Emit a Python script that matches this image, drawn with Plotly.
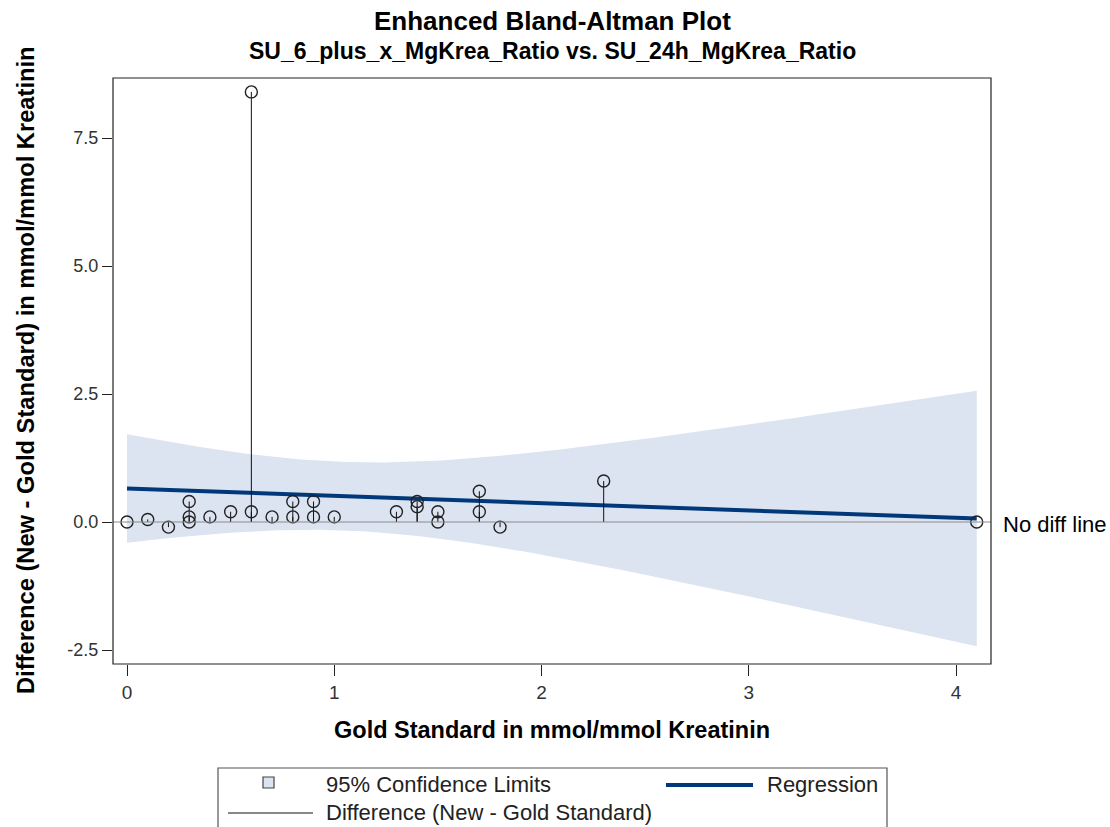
import numpy as np
import plotly.graph_objects as go

# Gold standard values (x) and differences New - Gold Standard (y)
gold = [0.0, 0.1, 0.2, 0.3, 0.3, 0.3, 0.4, 0.5, 0.6, 0.6, 0.7, 0.8, 0.8,
        0.9, 0.9, 1.0, 1.3, 1.4, 1.4, 1.5, 1.5, 1.7, 1.7, 1.8, 2.3, 4.1]
diff = [0.0, 0.05, -0.1, 0.4, 0.1, 0.0, 0.1, 0.2, 0.2, 8.4, 0.1, 0.4, 0.1,
        0.4, 0.1, 0.1, 0.2, 0.4, 0.3, 0.2, 0.0, 0.6, 0.2, -0.1, 0.8, 0.0]

x_ticks = [0, 1, 2, 3, 4]
y_ticks = [-2.5, 0.0, 2.5, 5.0, 7.5]
y_tick_text = ["-2.5", "0.0", "2.5", "5.0", "7.5"]

title = "Enhanced Bland-Altman Plot"
subtitle = "SU_6_plus_x_MgKrea_Ratio vs. SU_24h_MgKrea_Ratio"
x_title = "Gold Standard in mmol/mmol Kreatinin"
y_title = "Difference (New - Gold Standard) in mmol/mmol Kreatinin"

# Student t quantile (0.975) for n - 2 = 24 degrees of freedom
T_CRIT = 2.0639

FONT = "Liberation Sans, Arial, sans-serif"
BAND = "#dce4f1"
NAVY = "#00387a"

# Linear regression of difference on gold standard with 95% CI of the mean
x = np.asarray(gold, dtype=float)
y = np.asarray(diff, dtype=float)
n = len(x)
slope, intercept = np.polyfit(x, y, 1)
resid = y - (intercept + slope * x)
s = np.sqrt(np.sum(resid ** 2) / (n - 2))
sxx = np.sum((x - x.mean()) ** 2)
xg = np.linspace(x.min(), x.max(), 120)
fit = intercept + slope * xg
half = T_CRIT * s * np.sqrt(1.0 / n + (xg - x.mean()) ** 2 / sxx)
lower, upper = fit - half, fit + half

fig = go.Figure()

# confidence band
fig.add_trace(go.Scatter(
    x=np.concatenate([xg, xg[::-1]]), y=np.concatenate([upper, lower[::-1]]),
    fill="toself", fillcolor=BAND, line=dict(width=0), mode="lines",
    hoverinfo="skip", showlegend=False))

# regression line
fig.add_trace(go.Scatter(x=xg, y=fit, mode="lines",
                         line=dict(color=NAVY, width=4), showlegend=False))

# needles from zero to each difference
nx, ny = [], []
for gx, dy in zip(gold, diff):
    nx += [gx, gx, None]
    ny += [0, dy, None]
fig.add_trace(go.Scatter(x=nx, y=ny, mode="lines",
                         line=dict(color="#111111", width=1), showlegend=False))

# observations
fig.add_trace(go.Scatter(
    x=gold, y=diff, mode="markers",
    marker=dict(symbol="circle-open", size=12, color="#222222",
                line=dict(width=1.4, color="#222222")),
    showlegend=False))

# plot area geometry (pixels) for paper-coordinate placement
L, R, T, B = 113, 991, 78, 664
W, H = R - L, B - T


def px(v):
    return (v - L) / W


def py(v):
    return (B - v) / H


shapes = [
    # no-difference reference line
    dict(type="line", xref="paper", yref="y", x0=0, x1=1, y0=0, y1=0,
         line=dict(color="#8c8c8c", width=1.2), layer="above"),
    # plot frame
    dict(type="rect", xref="paper", yref="paper", x0=0, x1=1, y0=0, y1=1,
         line=dict(color="#222222", width=1.2)),
    # legend box
    dict(type="rect", xref="paper", yref="paper", x0=px(218), x1=px(887),
         y0=py(829), y1=py(768), line=dict(color="#555555", width=1.2)),
    # legend swatches
    dict(type="rect", xref="paper", yref="paper", x0=px(263), x1=px(274),
         y0=py(788), y1=py(777), fillcolor=BAND,
         line=dict(color="#444444", width=1.2)),
    dict(type="line", xref="paper", yref="paper", x0=px(666), x1=px(753),
         y0=py(785), y1=py(785), line=dict(color=NAVY, width=4)),
    dict(type="line", xref="paper", yref="paper", x0=px(228), x1=px(313),
         y0=py(813), y1=py(813), line=dict(color="#111111", width=1)),
]

annotations = [
    dict(text="<b>%s</b>" % title, xref="paper", yref="paper", x=0.5, y=py(21),
         showarrow=False, xanchor="center", yanchor="middle",
         font=dict(size=26, color="black", family=FONT)),
    dict(text="<b>%s</b>" % subtitle, xref="paper", yref="paper", x=0.5, y=py(51),
         showarrow=False, xanchor="center", yanchor="middle",
         font=dict(size=23, color="black", family=FONT)),
    dict(text="<b>%s</b>" % x_title, xref="paper", yref="paper", x=0.5, y=py(730),
         showarrow=False, xanchor="center", yanchor="middle",
         font=dict(size=23.5, color="black", family=FONT)),
    dict(text="<b>%s</b>" % y_title, xref="paper", yref="paper", x=px(26),
         y=py(370), showarrow=False, textangle=-90, xanchor="center",
         yanchor="middle", font=dict(size=23.7, color="black", family=FONT)),
    dict(text="No diff line", xref="paper", yref="y", x=px(1001), y=0,
         yshift=-2, showarrow=False, xanchor="left", yanchor="middle",
         font=dict(size=22, color="black", family=FONT)),
    dict(text="95% Confidence Limits", xref="paper", yref="paper", x=px(324),
         y=py(784), showarrow=False, xanchor="left", yanchor="middle",
         font=dict(size=22, color="#222222", family=FONT)),
    dict(text="Regression", xref="paper", yref="paper", x=px(765),
         y=py(784), showarrow=False, xanchor="left", yanchor="middle",
         font=dict(size=22, color="#222222", family=FONT)),
    dict(text="Difference (New - Gold Standard)", xref="paper", yref="paper",
         x=px(324), y=py(813), showarrow=False, xanchor="left",
         yanchor="middle", font=dict(size=22, color="#222222", family=FONT)),
]

fig.update_layout(
    width=1110, height=827,
    margin=dict(l=L, r=1110 - R, t=T, b=827 - B, pad=0),
    paper_bgcolor="white", plot_bgcolor="white",
    showlegend=False,
    font=dict(family=FONT, color="#333333"),
    shapes=shapes, annotations=annotations,
    xaxis=dict(range=[(L - 127) / 207.25, (R - 127) / 207.25],
               tickvals=x_ticks, ticktext=[str(t) for t in x_ticks],
               ticks="outside", ticklen=11, tickcolor="#222222",
               showgrid=False, zeroline=False, showline=False,
               tickfont=dict(size=19, color="#333333")),
    yaxis=dict(range=[(522 - B) / 51.2, (522 - T) / 51.2],
               tickvals=y_ticks, ticktext=y_tick_text,
               ticks="outside", ticklen=10, tickcolor="#222222",
               showgrid=False, zeroline=False, showline=False,
               tickfont=dict(size=18, color="#333333")),
)

fig.write_html("out.html")
